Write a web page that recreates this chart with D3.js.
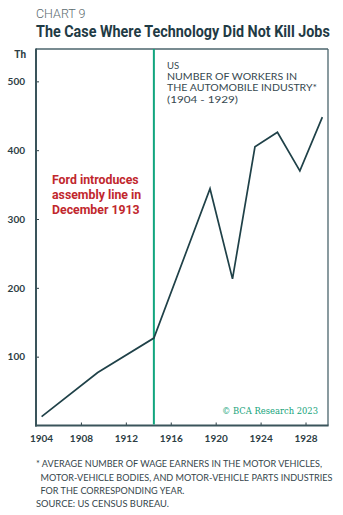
<!DOCTYPE html>
<html><head><meta charset="utf-8">
<script src="https://cdn.jsdelivr.net/npm/d3@7"></script>
<style>body{margin:0;background:#fff}svg{display:block}</style>
</head><body>
<script>
const years = [1904, 1909, 1914, 1919, 1921, 1923, 1925, 1927, 1929];
const workers = [13, 77, 127, 344, 213, 405, 426, 370, 448];
const yTicks = [100, 200, 300, 400, 500];
const xTicks = [1904, 1908, 1912, 1916, 1920, 1924, 1928];
const markerYear = 1914;
const titleLines = ["CHART 9", "The Case Where Technology Did Not Kill Jobs"];
const seriesLabel = ["US", "NUMBER OF WORKERS IN", "THE AUTOMOBILE INDUSTRY*", "(1904 - 1929)"];
const eventLabel = ["Ford introduces", "assembly line in", "December 1913"];
const footnotes = ["* AVERAGE NUMBER OF WAGE EARNERS IN THE MOTOR VEHICLES,", "MOTOR-VEHICLE BODIES, AND MOTOR-VEHICLE PARTS INDUSTRIES", "FOR THE CORRESPONDING YEAR.", "SOURCE: US CENSUS BUREAU."];

const W = 343, H = 515;
const L = 36, R = 328, T = 49, B = 425.5;
const svg = d3.select("body").append("svg").attr("width", W).attr("height", H);
const sans = "Lato, 'Open Sans', sans-serif";

const x = d3.scaleTime().domain([new Date(1904,0,1), new Date(1930,0,1)]).range([L, R]);
const y = d3.scaleLinear().domain([0, 547]).range([B, T]);
const mid = yr => new Date(yr, 6, 1);

// Fit a text to a target width by horizontal scaling
function fitWidth(sel, x0, y0, target) {
  sel.attr("x", 0).attr("y", 0);
  const w = sel.node().getComputedTextLength();
  const s = Math.min(1, target / w);
  sel.attr("transform", `translate(${x0},${y0}) scale(${s},1)`);
}

// Title
const t1 = svg.append("text").text(titleLines[0])
  .attr("font-family", "Roboto, sans-serif").attr("font-weight", 300).attr("font-size", 12.5)
  .attr("fill", "#5b6b70");
fitWidth(t1, 36, 18.3, 56);
const t2 = svg.append("text").text(titleLines[1])
  .attr("font-family", "Roboto, sans-serif").attr("font-weight", 700).attr("font-size", 16)
  .attr("fill", "#1f3b45");
fitWidth(t2, 36, 36.7, 294);

// Unit
svg.append("text").attr("x", 26).attr("y", 57.5).attr("text-anchor", "end").text("Th")
  .attr("font-family", "Roboto, sans-serif").attr("font-weight", 700).attr("font-size", 10).attr("fill", "#2d3e44");

// Y axis
const yAxis = svg.append("g").attr("transform", `translate(${L},0)`)
  .call(d3.axisLeft(y).tickValues(yTicks).tickSizeInner(-3).tickSizeOuter(0).tickPadding(11));
yAxis.select(".domain").remove();
yAxis.selectAll("line").attr("stroke", "#2d3e44");
yAxis.selectAll("text").attr("font-family", sans).attr("font-weight", 700).attr("font-size", 10).attr("fill", "#2d3e44");

// X axis
const xAxis = svg.append("g").attr("transform", `translate(0,${B})`)
  .call(d3.axisBottom(x).tickValues(xTicks.map(t => new Date(t,0,1))).tickFormat(d3.timeFormat("%Y"))
    .tickSizeInner(-3).tickSizeOuter(0).tickPadding(9));
xAxis.select(".domain").remove();
xAxis.selectAll("line").attr("stroke", "#2d3e44");
xAxis.selectAll("text").attr("font-family", sans).attr("font-weight", 700).attr("font-size", 10).attr("fill", "#2d3e44");
xAxis.selectAll(".tick").filter((d,i) => i === 0).select("text").attr("dx", 5);

// Frame
svg.append("line").attr("x1", L).attr("x2", R).attr("y1", T).attr("y2", T).attr("stroke", "#4b656c").attr("stroke-width", 1.3);
svg.append("line").attr("x1", R).attr("x2", R).attr("y1", T).attr("y2", B).attr("stroke", "#4b656c").attr("stroke-width", 1.3);
svg.append("line").attr("x1", L).attr("x2", L).attr("y1", T - 0.6).attr("y2", B + 1).attr("stroke", "#3a545b").attr("stroke-width", 2);
svg.append("line").attr("x1", L - 1).attr("x2", R + 0.6).attr("y1", B).attr("y2", B).attr("stroke", "#3a545b").attr("stroke-width", 2);

// Marker line
svg.append("line").attr("x1", x(mid(markerYear))).attr("x2", x(mid(markerYear)))
  .attr("y1", T).attr("y2", B - 1).attr("stroke", "#12a57e").attr("stroke-width", 2);

// Series line
svg.append("path").datum(years.map((yr, i) => [mid(yr), workers[i]]))
  .attr("d", d3.line().x(d => x(d[0])).y(d => y(d[1])))
  .attr("fill", "none").attr("stroke", "#1f4148").attr("stroke-width", 1.7).attr("stroke-linejoin", "miter");

// Series label
const sl = svg.append("text").attr("font-family", sans).attr("font-size", 9.5).attr("fill", "#36494f");
const slY = [68.5, 79.5, 90.5, 102.5];
const slW = [null, 130, 150, 71];
seriesLabel.forEach((t, i) => {
  const ts = sl.append("tspan").attr("x", 167).attr("y", slY[i]).text(t);
  if (slW[i]) ts.attr("textLength", slW[i]).attr("lengthAdjust", "spacingAndGlyphs");
});

// Event label
const ev = svg.append("text").attr("font-family", "Roboto, sans-serif").attr("font-weight", 700)
  .attr("font-size", 12.3).attr("fill", "#c1272d");
const evY = [184, 199, 214];
eventLabel.forEach((t, i) => ev.append("tspan").attr("x", 52).attr("y", evY[i]).text(t));

// Credit
svg.append("text").attr("x", 318).attr("y", 413.5).attr("text-anchor", "end").text("© BCA Research 2023")
  .attr("font-family", "'DejaVu Serif', 'Liberation Serif', serif").attr("font-size", 9.5).attr("fill", "#14a37a")
  .attr("textLength", 96).attr("lengthAdjust", "spacingAndGlyphs");

// Footnotes
const fx = [36, 40.5, 40.5, 36], fy = [466.5, 480.5, 493.5, 507.3], fw = [286, 292, 144, 133];
footnotes.forEach((t, i) => {
  svg.append("text").attr("x", fx[i]).attr("y", fy[i]).text(t)
    .attr("font-family", sans).attr("font-size", 8.5).attr("fill", "#34454b")
    .attr("textLength", fw[i]).attr("lengthAdjust", "spacingAndGlyphs");
});
</script>
</body></html>
